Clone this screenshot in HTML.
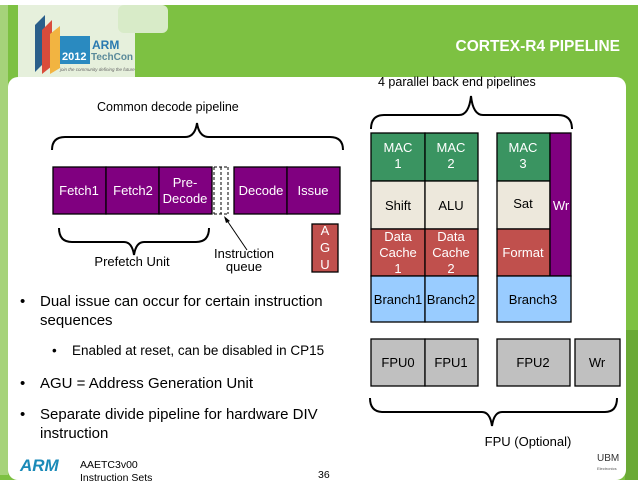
<!DOCTYPE html>
<html><head><meta charset="utf-8"><style>
html,body{margin:0;padding:0;background:#fff;}
svg{display:block;font-family:"Liberation Sans",Arial,sans-serif;}
</style></head><body>
<svg width="638" height="493" viewBox="0 0 638 493" xmlns="http://www.w3.org/2000/svg">
<rect x="0" y="5" width="638" height="475" fill="#7dc142"/>
<rect x="0" y="5" width="8" height="470" fill="#a6d37a"/>
<rect x="625" y="330" width="13" height="150" fill="#6aa935"/>
<rect x="18" y="5" width="117" height="72" fill="#e6f0dc"/>
<rect x="118" y="5" width="50" height="28" rx="6" fill="#d8ebc8"/>
<polygon points="35,25 45,15 45,62 35,72" fill="#2a5f8a"/>
<polygon points="42,30 52,20 52,66 42,74" fill="#d94c3b"/>
<polygon points="50,34 60,26 60,68 50,74" fill="#f2b441"/>
<rect x="60" y="36" width="30" height="28" fill="#2a8ac0"/>
<text x="62" y="60" font-size="11" font-weight="bold" fill="#fff">2012</text>
<text x="92" y="49" font-size="12" font-weight="bold" fill="#2a7ab0">ARM</text>
<text x="91" y="60" font-size="10" font-weight="bold" fill="#5a8a9a">TechCon</text>
<text x="60" y="71" font-size="4.5" fill="#666" font-style="italic">join the community defining the future</text>
<text x="620" y="51" font-size="15.5" font-weight="bold" fill="#fff" text-anchor="end">CORTEX-R4 PIPELINE</text>
<rect x="8" y="77" width="618" height="403" rx="10" fill="#fff"/>
<text x="378" y="86" font-size="12.5">4 parallel back end pipelines</text>
<text x="97" y="111" font-size="12.5">Common decode pipeline</text>
<g fill="none" stroke="#000" stroke-width="2">
<path d="M52,150 Q52,137 65,137 L185,137 Q195,137 197,123 Q199,137 209,137 L330,137 Q343,137 343,150"/>
<path d="M371,129 Q371,115 384,115 L459,115 Q469,115 471,96 Q473,115 483,115 L558,115 Q572,115 572,129"/>
<path d="M59,228 Q59,242 72,242 L124,242 Q132,242 134,255 Q136,242 144,242 L196,242 Q209,242 209,228"/>
<path d="M370,398 Q370,412 383,412 L482,412 Q490,412 492,426 Q494,412 502,412 L605,412 Q617,412 617,398"/>
</g>
<g stroke="#000" stroke-width="1.3">
<rect x="53" y="167" width="53" height="47" fill="#800080"/>
<rect x="106" y="167" width="53" height="47" fill="#800080"/>
<rect x="159" y="167" width="53" height="47" fill="#800080"/>
<rect x="234" y="167" width="53" height="47" fill="#800080"/>
<rect x="287" y="167" width="53" height="47" fill="#800080"/>
<rect x="312" y="224" width="26" height="48" fill="#c0504d"/>
</g>
<g stroke="#000" stroke-width="1" stroke-dasharray="3,2" fill="none">
<line x1="214" y1="167" x2="214" y2="214"/><line x1="221" y1="167" x2="221" y2="214"/><line x1="228" y1="167" x2="228" y2="214"/>
<line x1="214" y1="167" x2="228" y2="167"/><line x1="214" y1="214" x2="228" y2="214"/>
</g>
<line x1="247" y1="250" x2="226" y2="219" stroke="#000" stroke-width="1"/>
<polygon points="224,216 230,221 226,223" fill="#000"/>
<g fill="#fff" font-size="13" text-anchor="middle">
<text x="79" y="195">Fetch1</text><text x="133" y="195">Fetch2</text>
<text x="185" y="187">Pre-</text><text x="185" y="203">Decode</text>
<text x="261" y="195">Decode</text><text x="313" y="195">Issue</text>
<text x="325" y="235">A</text><text x="325" y="252">G</text><text x="325" y="269">U</text>
</g>
<g font-size="13" text-anchor="middle">
<text x="132" y="266">Prefetch Unit</text>
<text x="244" y="258">Instruction</text><text x="244" y="271">queue</text>
</g>
<g stroke="#000" stroke-width="1.3">
<rect x="371" y="133" width="54" height="48" fill="#3a9461"/>
<rect x="425" y="133" width="53" height="48" fill="#3a9461"/>
<rect x="497" y="133" width="53" height="48" fill="#3a9461"/>
<rect x="371" y="181" width="54" height="48" fill="#ede8dc"/>
<rect x="425" y="181" width="53" height="48" fill="#ede8dc"/>
<rect x="497" y="181" width="53" height="48" fill="#ede8dc"/>
<rect x="371" y="229" width="54" height="47" fill="#c0504d"/>
<rect x="425" y="229" width="53" height="47" fill="#c0504d"/>
<rect x="497" y="229" width="53" height="47" fill="#c0504d"/>
<rect x="550" y="133" width="21" height="143" fill="#800080"/>
<rect x="371" y="276" width="54" height="46" fill="#99ccff"/>
<rect x="425" y="276" width="53" height="46" fill="#99ccff"/>
<rect x="497" y="276" width="74" height="46" fill="#99ccff"/>
<rect x="371" y="339" width="54" height="47" fill="#c0c0c0"/>
<rect x="425" y="339" width="53" height="47" fill="#c0c0c0"/>
<rect x="497" y="339" width="73" height="47" fill="#c0c0c0"/>
<rect x="575" y="339" width="45" height="47" fill="#c0c0c0"/>
</g>
<g font-size="13" text-anchor="middle">
<g fill="#fff">
<text x="398" y="152">MAC</text><text x="398" y="168">1</text>
<text x="451" y="152">MAC</text><text x="451" y="168">2</text>
<text x="523" y="152">MAC</text><text x="523" y="168">3</text>
<text x="398" y="241">Data</text><text x="398" y="257">Cache</text><text x="398" y="273">1</text>
<text x="451" y="241">Data</text><text x="451" y="257">Cache</text><text x="451" y="273">2</text>
<text x="523" y="257">Format</text>
<text x="561" y="210">Wr</text>
</g>
<text x="398" y="210">Shift</text><text x="451" y="210">ALU</text><text x="523" y="208">Sat</text>
<text x="398" y="304">Branch1</text><text x="451" y="304">Branch2</text><text x="533" y="304">Branch3</text>
<text x="398" y="367">FPU0</text><text x="451" y="367">FPU1</text><text x="533" y="367">FPU2</text><text x="597" y="367">Wr</text>
<text x="528" y="446">FPU (Optional)</text>
</g>
<g font-size="15">
<text x="20" y="306">•</text><text x="40" y="306">Dual issue can occur for certain instruction</text>
<text x="40" y="325">sequences</text>
<text x="52" y="355" font-size="13.5">•</text><text x="72" y="355" font-size="13.5">Enabled at reset, can be disabled in CP15</text>
<text x="20" y="388">•</text><text x="40" y="388">AGU = Address Generation Unit</text>
<text x="20" y="419">•</text><text x="40" y="419">Separate divide pipeline for hardware DIV</text>
<text x="40" y="438">instruction</text>
</g>
<text x="20" y="471" font-size="17" font-weight="900" fill="#1a8ab8" font-style="italic">ARM</text>
<text x="80" y="468" font-size="10.5">AAETC3v00</text>
<text x="80" y="481" font-size="10.5">Instruction Sets</text>
<text x="318" y="478" font-size="10.5">36</text>
<text x="597" y="461" font-size="10" fill="#333">UBM</text>
<text x="597" y="470" font-size="4" fill="#555">Electronics</text>
</svg>
</body></html>
